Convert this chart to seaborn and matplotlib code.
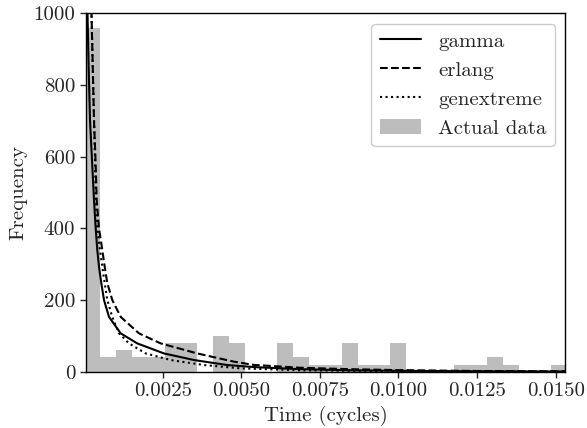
import numpy as np
import pandas as pd
import matplotlib
matplotlib.use("Agg")
import matplotlib.pyplot as plt
import seaborn as sns

# ---- data ----
bin_width = 0.000512
hist_counts = [960, 40, 60, 40, 40, 80, 80, 0, 100, 80,
               0, 0, 80, 40, 20, 20, 80, 20, 20, 80,
               0, 0, 0, 20, 20, 40, 20, 0, 0, 20]

gamma_x = [0.00009, 0.000108, 0.00014, 0.000188, 0.000251, 0.000315, 0.000369,
           0.00042, 0.000474, 0.000547, 0.000633, 0.000792, 0.001164, 0.001692,
           0.00254, 0.003496, 0.004555, 0.0054, 0.0069, 0.0085, 0.0100, 0.0125, 0.0153]
gamma_y = [1200, 1000, 869, 702, 591, 479, 400,
           339, 293, 247, 200, 153, 107, 79,
           51, 32.6, 18.6, 13, 7, 4, 2.5, 1, 0.4]

erlang_x = [0.00021, 0.000235, 0.000315, 0.000363, 0.000401, 0.000474, 0.000579,
            0.000655, 0.000738, 0.000897, 0.001164, 0.001746, 0.002436, 0.0036,
            0.004768, 0.0054, 0.0069, 0.0085, 0.0100, 0.0125, 0.0153]
erlang_y = [1100, 1000, 702, 591, 479, 400, 339,
            293, 247, 200, 153, 107, 79, 51,
            28, 19, 11, 7, 4.5, 2, 1]

genext_x = [0.00021, 0.000235, 0.000315, 0.000347, 0.000369, 0.00042, 0.000506,
            0.000579, 0.000655, 0.000738, 0.000897, 0.00111, 0.001428, 0.00196,
            0.002755, 0.003814, 0.00498, 0.0069, 0.0100, 0.0153]
genext_y = [1100, 1000, 702, 591, 479, 400, 339,
            293, 247, 200, 153, 107, 79, 51,
            32.6, 18.6, 9.3, 4, 1.5, 0.5]

# ---- style ----
sns.set_style("ticks")
plt.rcParams["font.family"] = ["cmr10", "DejaVu Serif"]
plt.rcParams["mathtext.fontset"] = "cm"
plt.rcParams["axes.formatter.use_mathtext"] = True
plt.rcParams["axes.unicode_minus"] = False
fs = 15

fig = plt.figure(figsize=(5.87, 4.28), dpi=100)
ax = fig.add_axes([0.146, 0.1315, 0.817, 0.8375])

sns.lineplot(x=gamma_x, y=gamma_y, ax=ax, color="black", linestyle="-",
             linewidth=1.5, label="gamma", sort=False)
sns.lineplot(x=erlang_x, y=erlang_y, ax=ax, color="black", linestyle="--",
             linewidth=1.5, label="erlang", sort=False)
sns.lineplot(x=genext_x, y=genext_y, ax=ax, color="black", linestyle=":",
             linewidth=1.5, label="genextreme", sort=False)

n_bins = len(hist_counts)
centers = (np.arange(n_bins) + 0.5) * bin_width
hist_df = pd.DataFrame({"t": centers, "w": hist_counts})
sns.histplot(data=hist_df, x="t", weights="w", bins=n_bins,
             binrange=(0, n_bins * bin_width), ax=ax,
             color="#bdbdbd", alpha=1.0, edgecolor="none", linewidth=0,
             label="Actual data", zorder=0)

ax.set_xlim(0.000051, 0.015305)
ax.set_ylim(0, 1000)
ax.set_xticks([0.0025, 0.0050, 0.0075, 0.0100, 0.0125, 0.0150])
ax.set_xticklabels(["0.0025", "0.0050", "0.0075", "0.0100", "0.0125", "0.0150"])
ax.set_yticks([0, 200, 400, 600, 800, 1000])
ax.set_yticklabels(["0", "200", "400", "600", "800", "1000"])
ax.tick_params(labelsize=fs, direction="out", length=4, width=1)
ax.set_xlabel("Time (cycles)", fontsize=fs)
ax.set_ylabel("Frequency", fontsize=fs)
for s in ax.spines.values():
    s.set_visible(True)
    s.set_linewidth(1.0)
    s.set_color("black")

leg = ax.legend(loc="upper right", fontsize=fs, frameon=True, framealpha=1.0,
                edgecolor="#cccccc", fancybox=True)

fig.savefig("out.png", dpi=100)
